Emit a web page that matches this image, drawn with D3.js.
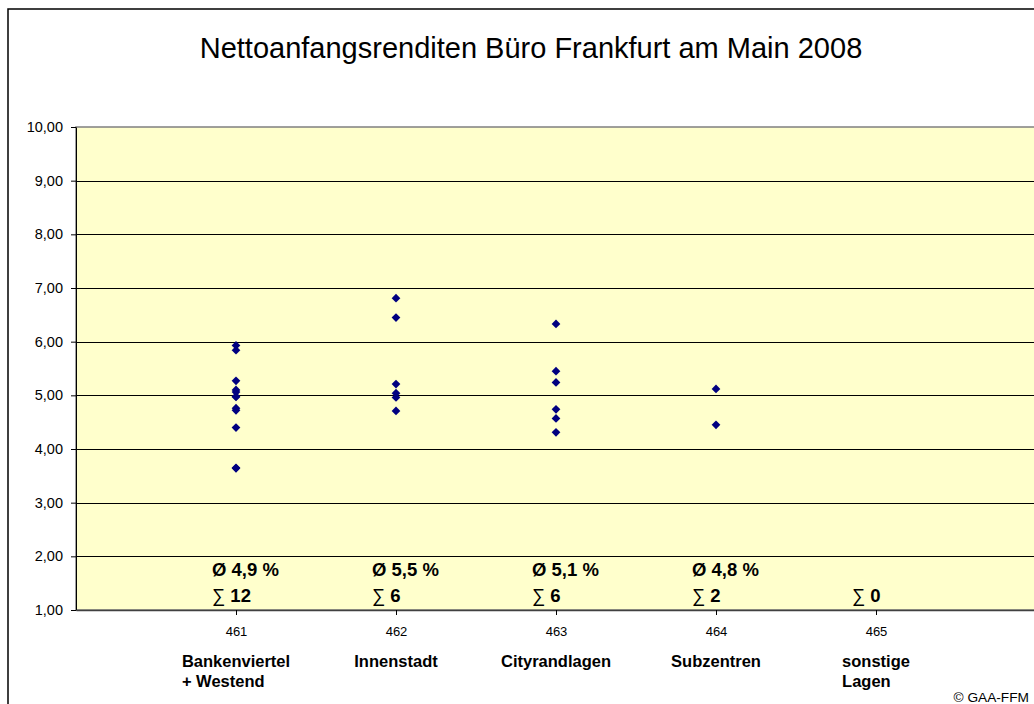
<!DOCTYPE html>
<html>
<head>
<meta charset="utf-8">
<script src="https://cdn.jsdelivr.net/npm/d3@7"></script>
<style>
  html, body { margin: 0; padding: 0; background: #fff; }
  svg { display: block; font-family: "Liberation Sans", Arial, sans-serif; }
</style>
</head>
<body>
<svg id="chart" width="1034" height="704"></svg>
<script>
// ---------- data ----------
const title = "Nettoanfangsrenditen Büro Frankfurt am Main 2008";
const categories = [461, 462, 463, 464, 465];
const categoryNames = [["Bankenviertel", "+ Westend"], ["Innenstadt"], ["Cityrandlagen"], ["Subzentren"], ["sonstige", "Lagen"]];
const yields461 = [5.93, 5.84, 5.27, 5.10, 5.06, 4.98, 4.97, 4.76, 4.72, 4.40, 3.65, 3.64];
const yields462 = [6.81, 6.45, 5.21, 5.04, 4.96, 4.71];
const yields463 = [6.33, 5.45, 5.24, 4.74, 4.57, 4.31];
const yields464 = [5.12, 4.45];
const yields465 = [];
const averages = [4.9, 5.5, 5.1, 4.8, null];
const counts = [12, 6, 6, 2, 0];
const yTicks = [1, 2, 3, 4, 5, 6, 7, 8, 9, 10];
const copyright = "© GAA-FFM";

const series = [yields461, yields462, yields463, yields464, yields465];
const points = [];
series.forEach((vals, i) => vals.forEach(v => points.push({ cat: categories[i], v })));

// ---------- layout ----------
const svg = d3.select("#chart");
const plotL = 76, plotR = 1036, plotT = 127, plotB = 610;
const x = d3.scaleLinear().domain([460, 466]).range([plotL, plotR]);
const y = d3.scaleLinear().domain([1, 10]).range([plotB, plotT]);
const de = d3.formatLocale({ decimal: ",", thousands: ".", grouping: [3], currency: ["", " €"] });
const fmt2 = de.format(".2f");
const fmt1 = de.format(".1f");

// outer chart border
svg.append("rect").attr("x", 8).attr("y", 9).attr("width", 1060).attr("height", 720)
  .attr("fill", "#fff").attr("stroke", "#000").attr("stroke-width", 1.5);

// title
svg.append("text").attr("x", 531).attr("y", 58).attr("text-anchor", "middle")
  .attr("font-size", 29).attr("fill", "#000").text(title);

// plot area
svg.append("rect").attr("x", plotL).attr("y", plotT).attr("width", plotR - plotL).attr("height", plotB - plotT)
  .attr("fill", "#FFFFCC").attr("stroke", "#808080").attr("stroke-width", 1.5);

// gridlines
svg.append("g").selectAll("line").data(yTicks.filter(d => d > 1 && d < 10)).join("line")
  .attr("x1", plotL).attr("x2", plotR)
  .attr("y1", d => Math.round(y(d)) + 0.5).attr("y2", d => Math.round(y(d)) + 0.5)
  .attr("stroke", "#000").attr("stroke-width", 1);

// y axis
const yAxis = svg.append("g").attr("transform", `translate(${plotL},0)`)
  .call(d3.axisLeft(y).tickValues(yTicks).tickFormat(fmt2).tickSize(5).tickSizeOuter(0).tickPadding(8));
yAxis.selectAll("text").attr("font-size", 14.5).attr("font-family", "Liberation Sans, Arial, sans-serif").attr("fill", "#000");
yAxis.selectAll("line").attr("stroke", "#000");
yAxis.select(".domain").attr("stroke", "#000");

// x axis
const xAxis = svg.append("g").attr("transform", `translate(0,${plotB})`)
  .call(d3.axisBottom(x).tickValues(categories).tickFormat(d3.format("d")).tickSize(5).tickSizeOuter(0).tickPadding(12));
xAxis.selectAll("text").attr("font-size", 13).attr("font-family", "Liberation Sans, Arial, sans-serif").attr("fill", "#000");
xAxis.selectAll("line").attr("stroke", "#000");
xAxis.select(".domain").attr("stroke", "#404040").attr("stroke-width", 1.5);

// points
svg.append("g").selectAll("path").data(points).join("path")
  .attr("d", d3.symbol(d3.symbolSquare, 38))
  .attr("transform", d => `translate(${x(d.cat)},${y(d.v)}) rotate(45)`)
  .attr("fill", "#000080");

// averages and counts
const ann = svg.append("g").attr("font-weight", "bold").attr("font-size", 18.5).attr("fill", "#000");
categories.forEach((c, i) => {
  if (averages[i] !== null) {
    ann.append("text").attr("x", x(c) - 24).attr("y", 576).text(`Ø ${fmt1(averages[i])} %`);
  }
  const t = ann.append("text").attr("x", x(c) - 24).attr("y", 602);
  t.append("tspan").attr("font-weight", "normal").text("∑ ");
  t.append("tspan").text(counts[i]);
});

// category names
const names = svg.append("g").attr("font-weight", "bold").attr("font-size", 16.5).attr("fill", "#000");
categories.forEach((c, i) => {
  const lines = categoryNames[i];
  const first = names.append("text").attr("y", 667).text(lines[0]);
  const w = first.node().getComputedTextLength();
  const x0 = x(c) - w / 2;
  first.attr("x", x0);
  lines.slice(1).forEach((ln, j) => {
    names.append("text").attr("x", x0).attr("y", 667 + 20 * (j + 1)).text(ln);
  });
});

// copyright
svg.append("text").attr("x", 1029).attr("y", 702).attr("text-anchor", "end")
  .attr("font-size", 13.7).attr("fill", "#000").text(copyright);
</script>
</body>
</html>
